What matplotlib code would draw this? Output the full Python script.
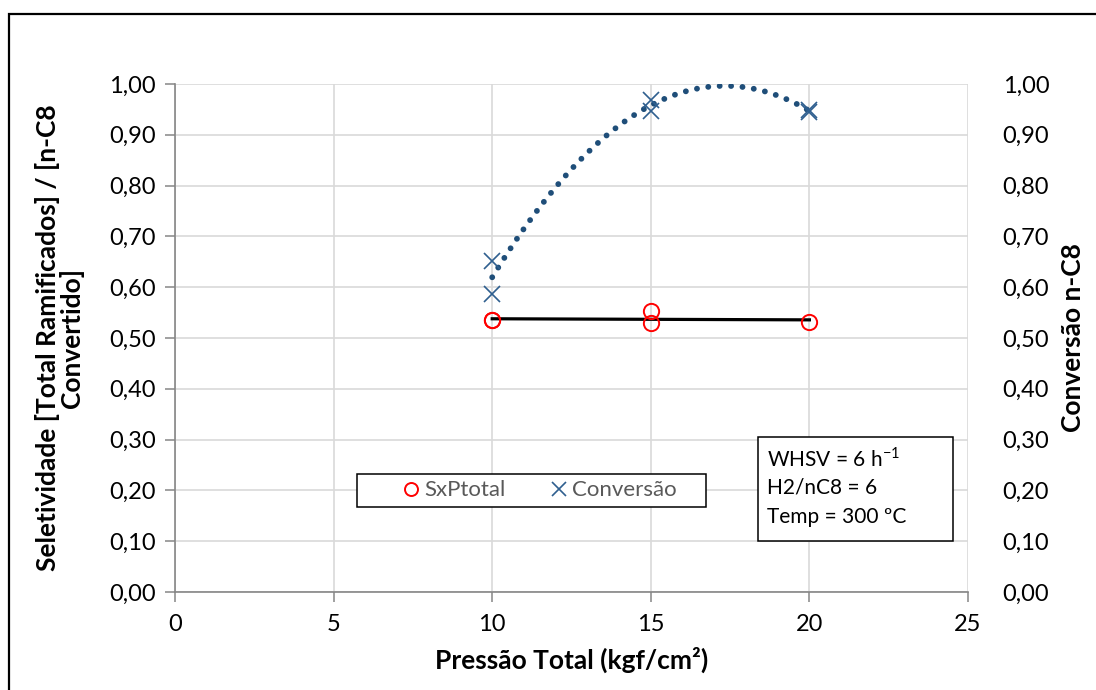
import matplotlib.pyplot as plt
import numpy as np
from matplotlib.patches import Rectangle

plt.rcParams['font.family'] = ['Lato', 'DejaVu Sans']
plt.rcParams['mathtext.fontset'] = 'custom'
plt.rcParams['mathtext.rm'] = 'Lato'

### --->>> DADOS
pressao_sel = [10, 10, 15, 15, 20]
seletividade = [0.536, 0.535, 0.554, 0.529, 0.531]

pressao_conv = [10, 10, 15, 15, 20, 20]
conversao = [0.652, 0.587, 0.969, 0.947, 0.949, 0.945]

xticks = [0, 5, 10, 15, 20, 25]
yticks = np.round(np.arange(0, 1.01, 0.1), 2)
info = ['WHSV = 6 h$^{\\mathrm{-1}}$', 'H2/nC8 = 6', 'Temp = 300 ºC']

cor_sel = '#FF0000'
cor_conv = '#2F5F8F'
cor_tend = '#1F4E79'
cor_eixo = '#868686'
cor_grade = '#D9D9D9'

def fmt(v):
    return f'{v:.2f}'.replace('.', ',')

# pixel -> coordenadas do eixo
def px(x, y):
    return (x - 175) / 793, (592 - y) / 508

fig = plt.figure(figsize=(10.96, 6.9), dpi=100)
ax = fig.add_axes([175/1096, 1 - 592/690, (968 - 175)/1096, (592 - 84)/690])
ax2 = ax.twinx()

# moldura externa
fig.patches.append(Rectangle((9/1096, -0.1), 1.2, 0.1 + 1 - 14/690, transform=fig.transFigure,
                             fill=False, edgecolor='black', linewidth=1.6, zorder=0))

# linhas de tendência
xs = np.linspace(10, 20, 200)
c_lin = np.polyfit(pressao_sel, seletividade, 1)
ax.plot(xs, np.polyval(c_lin, xs), color='black', linewidth=2.3, zorder=3)
c_pol = np.polyfit(pressao_conv, conversao, 2)
ax2.plot(xs, np.polyval(c_pol, xs), color=cor_tend, linewidth=4.2,
         linestyle=(0, (0.01, 1.95)), dash_capstyle='round', zorder=3)

h1, = ax.plot(pressao_sel, seletividade, linestyle='none', marker='o', markersize=11,
              markerfacecolor='none', markeredgecolor=cor_sel, markeredgewidth=1.4,
              label='SxPtotal', zorder=4)
h2, = ax2.plot(pressao_conv, conversao, linestyle='none', marker='x', markersize=12,
               color=cor_conv, markeredgewidth=1.2, label='Conversão', zorder=4)

for a in (ax, ax2):
    a.set_ylim(0, 1.0)
    a.set_xlim(0, 25)
    for s in a.spines.values():
        s.set_visible(False)

for lado in ('left', 'bottom'):
    ax.spines[lado].set_visible(True)
    ax.spines[lado].set_color(cor_eixo)
    ax.spines[lado].set_linewidth(1.2)

ax.set_xticks(xticks)
ax.set_xticklabels([str(t) for t in xticks])
ax.set_yticks(yticks)
ax.set_yticklabels([fmt(t) for t in yticks])
ax.tick_params(axis='both', direction='out', length=7, width=1.1, color=cor_eixo,
               labelsize=17, labelcolor='black')
ax.tick_params(axis='y', pad=7)
ax.tick_params(axis='x', pad=9)
ax.grid(True, color=cor_grade, linewidth=1.2)
ax.set_axisbelow(True)

ax2.set_yticks(yticks)
ax2.set_yticklabels([fmt(t) for t in yticks])
ax2.tick_params(axis='y', length=0, labelsize=17, pad=25)

ax.set_xlabel('Pressão Total (kgf/cm²)', fontsize=19, fontweight='bold', labelpad=8)
ax.set_ylabel('Seletividade [Total Ramificados] / [n-C8\nConvertido]', fontsize=19,
              fontweight='bold', labelpad=18, linespacing=0.95)
ax2.set_ylabel('Conversão n-C8', fontsize=19, fontweight='bold', labelpad=8)

# legenda
x0, y0 = px(357, 507)
x1, y1 = px(706, 474)
ax.add_patch(Rectangle((x0, y0), x1 - x0, y1 - y0, transform=ax.transAxes, fill=True,
                       facecolor='white', edgecolor='black', linewidth=1.1, zorder=5))
lx, ly = px(404, 490.5)
leg = ax.legend([h1, h2], ['SxPtotal', 'Conversão'], ncol=2, loc='center left',
                bbox_to_anchor=(lx, ly), fontsize=16, frameon=False,
                handlelength=0.6, handletextpad=0.3, borderpad=0, borderaxespad=0,
                columnspacing=2.1, markerscale=0.85)
leg.set_zorder(6)
for t in leg.get_texts():
    t.set_color('#595959')

# caixa de condições
bx0, by0 = px(758, 541)
bx1, by1 = px(953, 437)
ax2.add_patch(Rectangle((bx0, by0), bx1 - bx0, by1 - by0, transform=ax.transAxes,
                        facecolor='white', edgecolor='black', linewidth=1.1, zorder=5))
for linha, yy in zip(info, [459, 488, 517]):
    tx, ty = px(767, yy)
    ax2.text(tx, ty, linha, transform=ax.transAxes, ha='left', va='center',
             fontsize=15, zorder=6)

fig.savefig('out.png', dpi=100)
